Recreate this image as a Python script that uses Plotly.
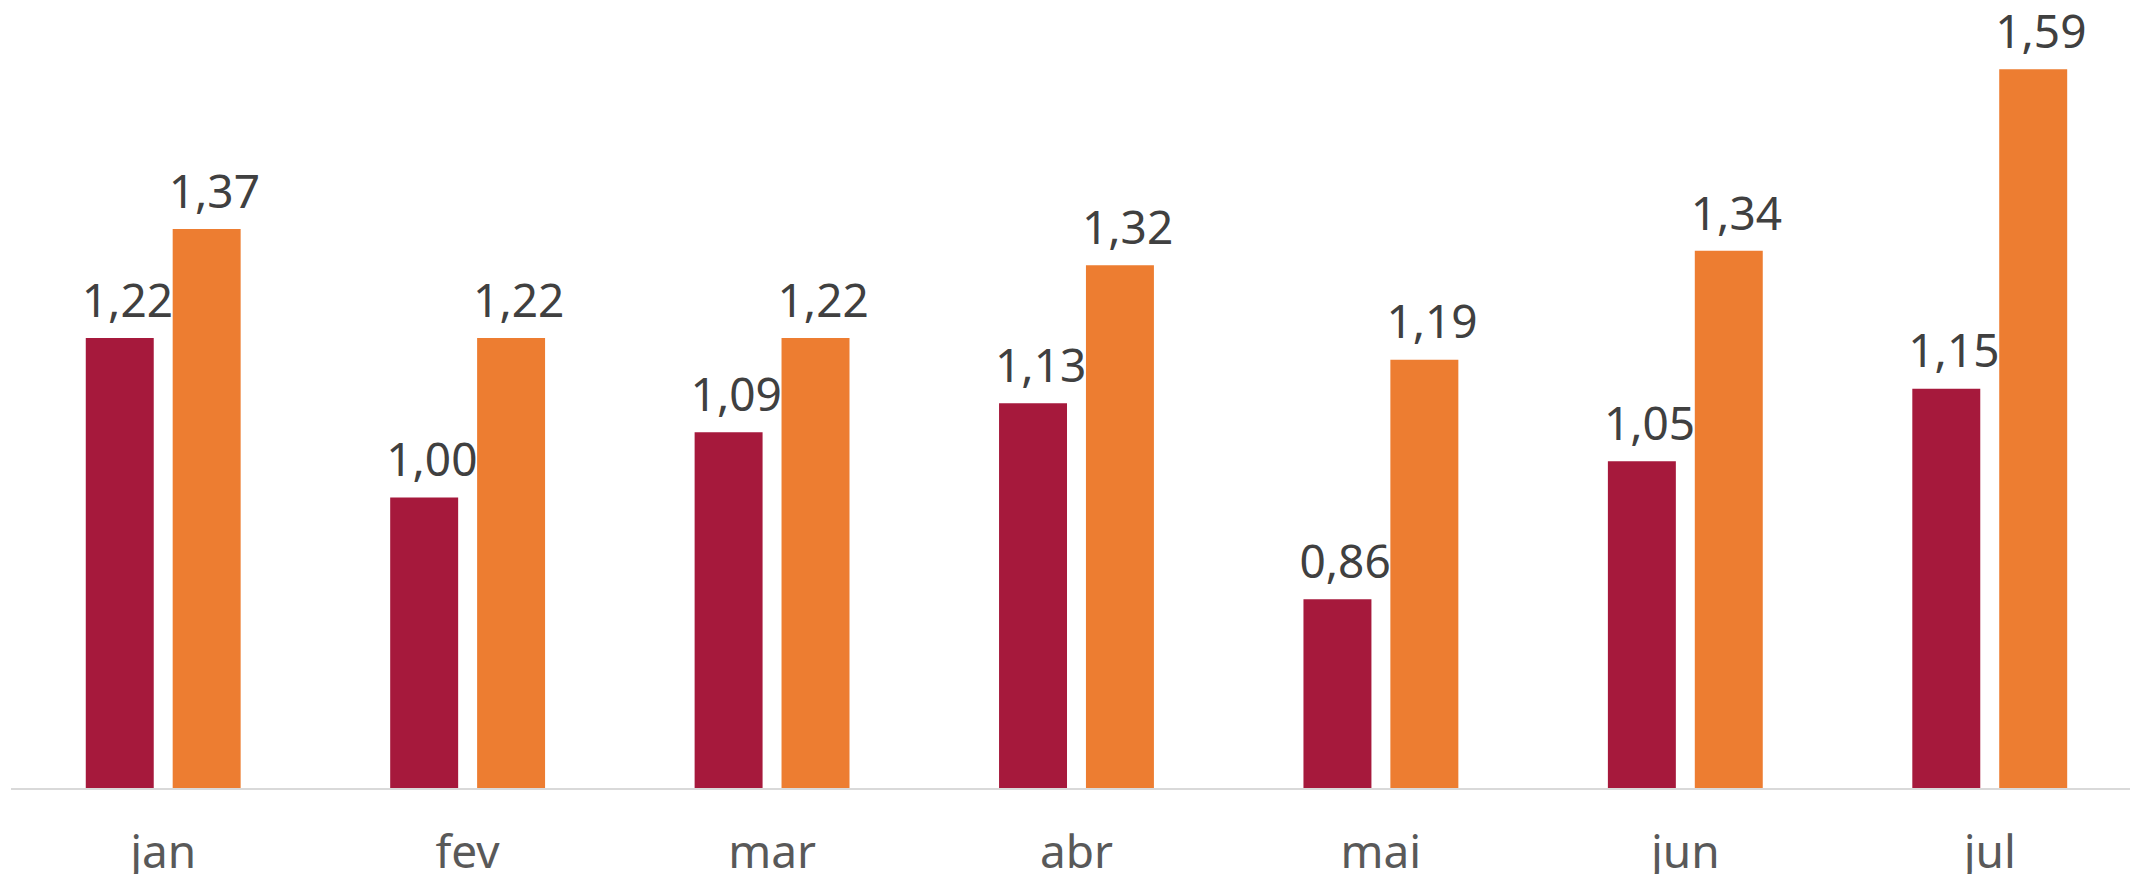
import plotly.graph_objects as go

months = ["jan", "fev", "mar", "abr", "mai", "jun", "jul"]
serie_a = [1.22, 1.00, 1.09, 1.13, 0.86, 1.05, 1.15]
serie_b = [1.37, 1.22, 1.22, 1.32, 1.19, 1.34, 1.59]

RED = "#A6193C"
ORANGE = "#ED7D31"
FONT = "Noto Sans"

fig = go.Figure()
for i, (name, vals, col) in enumerate([("Série A", serie_a, RED), ("Série B", serie_b, ORANGE)]):
    fig.add_trace(go.Bar(
        x=months, y=vals, name=name, marker_color=col, marker_line_width=0,
        offsetgroup=str(i), alignmentgroup="a", hoverinfo="skip",
    ))
for i, vals in enumerate([serie_a, serie_b]):
    fig.add_trace(go.Scatter(
        x=months, y=vals, mode="markers+text", offsetgroup=str(i), alignmentgroup="a",
        marker=dict(size=14, opacity=0), texttemplate="\u2004%{y:.2f}",
        textposition="top center", cliponaxis=False, hoverinfo="skip",
        textfont=dict(family=FONT, size=46, color="#404040"),
    ))

fig.update_layout(
    width=2130, height=866,
    margin=dict(l=3, r=0, t=0, b=86),
    barmode="group", bargap=0.429, bargroupgap=0.218,
    scattermode="group", scattergap=0.429,
    separators=",.",
    showlegend=False,
    plot_bgcolor="white", paper_bgcolor="white",
    font=dict(family=FONT),
    xaxis=dict(
        range=[-0.5, 6.487], showline=True, linecolor="#D9D9D9", linewidth=2,
        ticks="outside", ticklen=23, tickcolor="rgba(0,0,0,0)",
        tickfont=dict(family=FONT, size=46, color="#595959"),
        showgrid=False, zeroline=False, automargin=False,
    ),
    yaxis=dict(range=[0.6, 0.6 + 780 / 726], visible=False, showgrid=False,
               zeroline=False, automargin=False),
)

fig.write_html("out.html")
